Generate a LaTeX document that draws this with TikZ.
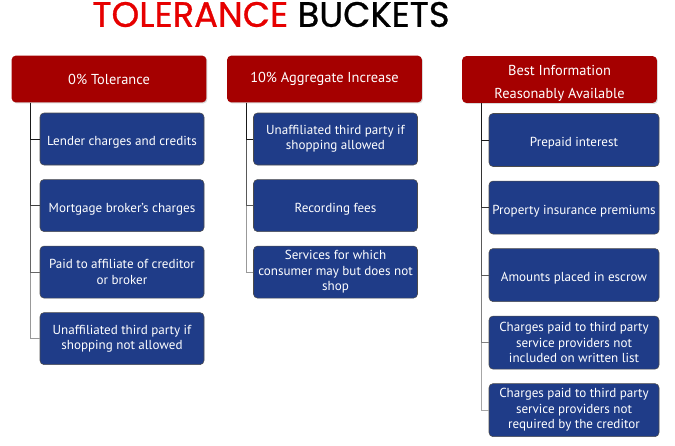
\documentclass[tikz,border=0pt]{standalone}
\usepackage{fontspec}
\setmainfont{PT Sans}
\newfontface\titlefont{Poppins}[FakeBold=0.8]
\usetikzlibrary{positioning,shadows}

\definecolor{hdrred}{HTML}{A50000}
\definecolor{boxblue}{HTML}{1F3C88}
\definecolor{titlered}{HTML}{E60000}

\begin{document}
\begin{tikzpicture}[x=0.75pt,y=-0.75pt,node distance=10.5pt,
  header/.style={fill=hdrred,rounded corners=3pt,text=white,align=center,
    minimum width=146pt,minimum height=35pt,inner sep=1pt,font=\fontsize{10.8}{17.5}\selectfont,
    drop shadow={opacity=0.3,shadow xshift=0.8pt,shadow yshift=-0.8pt}},
  item/.style={draw=black!70,line width=0.4pt,fill=boxblue,rounded corners=3pt,text=white,align=center,
    minimum width=123pt,minimum height=39pt,inner sep=1pt,font=\fontsize{9.8}{11.6}\selectfont,
    execute at begin node={\rule{0pt}{12pt}}},
  wide/.style={minimum width=127.5pt,minimum height=39.75pt}]
  \useasboundingbox (0,0) rectangle (675,446);
  \node (title) at (271,14.5) {\titlefont\fontsize{26.5}{28}\selectfont\color{titlered}TOLERANCE \color{black}BUCKETS};

  % 0% tolerance
  \node (zero) [header] at (109,79) {0\% Tolerance};
  \node (z1) [item] at (122,139) {Lender charges and credits};
  \node (z2) [item,below=of z1] {Mortgage broker's charges};
  \node (z3) [item,below=of z2] {Paid to affiliate of creditor\\or broker};
  \node (z4) [item,below=of z3] {Unaffiliated third party if\\shopping not allowed};

  % 10% aggregate
  \node (ten) [header] at (324.5,79) {10\% Aggregate Increase};
  \node (t1) [item] at (335.5,139) {Unaffiliated third party if\\shopping allowed};
  \node (t2) [item,below=of t1] {Recording fees};
  \node (t3) [item,below=of t2] {Services for which\\consumer may but does not\\shop};

  % best information
  \node (best) [header] at (559.5,79.5) {\rule{0pt}{13pt}Best Information\\Reasonably Available};
  \node (b1) [item,wide] at (574,140) {Prepaid interest};
  \node (b2) [item,wide,below=of b1] {Property insurance premiums};
  \node (b3) [item,wide,below=of b2] {Amounts placed in escrow};
  \node (b4) [item,wide,below=of b3] {Charges paid to third party\\service providers not\\included on written list};
  \node (b5) [item,wide,below=of b4] {Charges paid to third party\\service providers not\\required by the creditor};

  \foreach \n/\c in {4/40,3/60,2/75,1/90}
    \draw[black!\c] ([xshift=14.25pt]zero.south west) |- (z\n.west);
  \foreach \n/\c in {3/40,2/65,1/90}
    \draw[black!\c] ([xshift=14.25pt]ten.south west) |- (t\n.west);
  \foreach \n/\c in {5/35,4/50,3/65,2/80,1/90}
    \draw[black!\c] ([xshift=14.25pt]best.south west) |- (b\n.west);
\end{tikzpicture}
\end{document}
